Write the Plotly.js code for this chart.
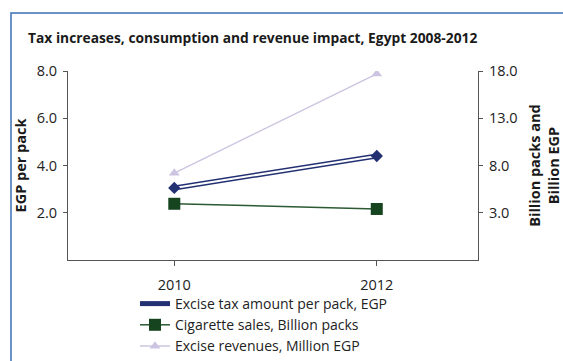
<!DOCTYPE html>
<html>
<head>
<meta charset="utf-8">
<script src="https://cdn.plot.ly/plotly-3.0.1.min.js"></script>
<style>
html,body{margin:0;padding:0;background:#fff;}
#chart{width:563px;height:361px;}
</style>
</head>
<body>
<div id="chart"></div>
<script>
var years = [2010, 2012];
var exciseTaxPerPack = [3.05, 4.4];        // EGP per pack (left axis)
var cigaretteSales = [3.95, 3.4];          // Billion packs (right axis)
var exciseRevenues = [7.2, 17.7];          // Revenues (right axis)
var leftTicks = [2, 4, 6, 8];
var rightTicks = [3, 8, 13, 18];
var seriesNames = ["Excise tax amount per pack, EGP", "Cigarette sales, Billion packs", "Excise revenues, Million EGP"];

var FONT = "Open Sans, Noto Sans, sans-serif";
var navy = "#233172";
var green = "#16441f";
var lav = "#cdc4e1";

var traces = [
  {x: years, y: exciseTaxPerPack, name: seriesNames[0], mode: "lines", yaxis: "y",
   line: {color: navy, width: 5}, hoverinfo: "skip"},
  {x: years, y: exciseTaxPerPack, mode: "lines", yaxis: "y", showlegend: false,
   line: {color: "#ffffff", width: 2}, hoverinfo: "skip"},
  {x: years, y: exciseTaxPerPack, mode: "markers", yaxis: "y", showlegend: false,
   marker: {symbol: "diamond", size: 9.5, color: navy}},
  {x: years, y: cigaretteSales, name: seriesNames[1], mode: "lines+markers", yaxis: "y2",
   line: {color: "#2b5a33", width: 1.5}, marker: {symbol: "square", size: 12, color: green}},
  {x: years, y: exciseRevenues, name: seriesNames[2], mode: "lines+markers", yaxis: "y2",
   line: {color: lav, width: 1.5}, marker: {symbol: "triangle-up", size: 9.5, color: lav}}
];

var axisCol = "#555555";
var layout = {
  width: 563, height: 361,
  margin: {l: 68, r: 85, t: 71, b: 101, pad: 0, autoexpand: false},
  paper_bgcolor: "#ffffff", plot_bgcolor: "#ffffff",
  font: {family: FONT, size: 14, color: "#222222"},
  title: {text: "<b>Tax increases, consumption and revenue impact, Egypt 2008-2012</b>",
          x: 28/563, xref: "container", xanchor: "left", y: 1 - 38/361, yref: "container", yanchor: "middle",
          font: {family: FONT, size: 13.8, color: "#1a1a1a"}},
  xaxis: {range: [2008.95, 2013.0], tickvals: years, ticktext: years.map(String), automargin: false,
          showgrid: false, zeroline: false, showline: true, linecolor: axisCol, linewidth: 1,
          ticks: "outside", ticklen: 5, tickcolor: axisCol, tickfont: {size: 14.5, color: "#222"},
          ticklabelstandoff: 7, fixedrange: true},
  yaxis: {range: [0, 8], tickvals: leftTicks, ticktext: leftTicks.map(function(v){return v.toFixed(1);}),
          automargin: false,
          showgrid: false, zeroline: false, showline: true, linecolor: axisCol, linewidth: 1,
          ticks: "outside", ticklen: 4, tickcolor: axisCol, tickfont: {size: 14.5, color: "#222"},
          ticklabelstandoff: 3,
          title: {text: "<b>EGP per pack</b>", font: {size: 14.5, color: "#1a1a1a"}, standoff: 6}},
  yaxis2: {range: [-2, 18], tickvals: rightTicks, ticktext: rightTicks.map(function(v){return v.toFixed(1);}),
          overlaying: "y", side: "right", automargin: false,
          showgrid: false, zeroline: false, showline: true, linecolor: axisCol, linewidth: 1,
          ticks: "outside", ticklen: 4, tickcolor: axisCol, tickfont: {size: 14.5, color: "#222"},
          ticklabelstandoff: 3,
          title: {text: "<b>Billion packs and<br>Billion EGP</b>", font: {size: 14.5, color: "#1a1a1a"}, standoff: 17}},
  legend: {x: (135-68)/410, xanchor: "left", y: (260-288)/189, yanchor: "top",
           orientation: "v", bgcolor: "rgba(0,0,0,0)", font: {size: 14, color: "#222"},
           tracegroupgap: 0, itemwidth: 30},
  shapes: [
    {type: "path", xref: "paper", yref: "paper",
     path: "M " + ((11-68)/410) + " " + ((260-400)/189) + " L " + ((11-68)/410) + " " + ((260-13)/189) +
           " L " + ((600-68)/410) + " " + ((260-13)/189),
     line: {color: "#3a72b6", width: 1.5}}
  ],
  showlegend: true
};

Plotly.newPlot("chart", traces, layout, {displayModeBar: false, staticPlot: true});
</script>
</body>
</html>
